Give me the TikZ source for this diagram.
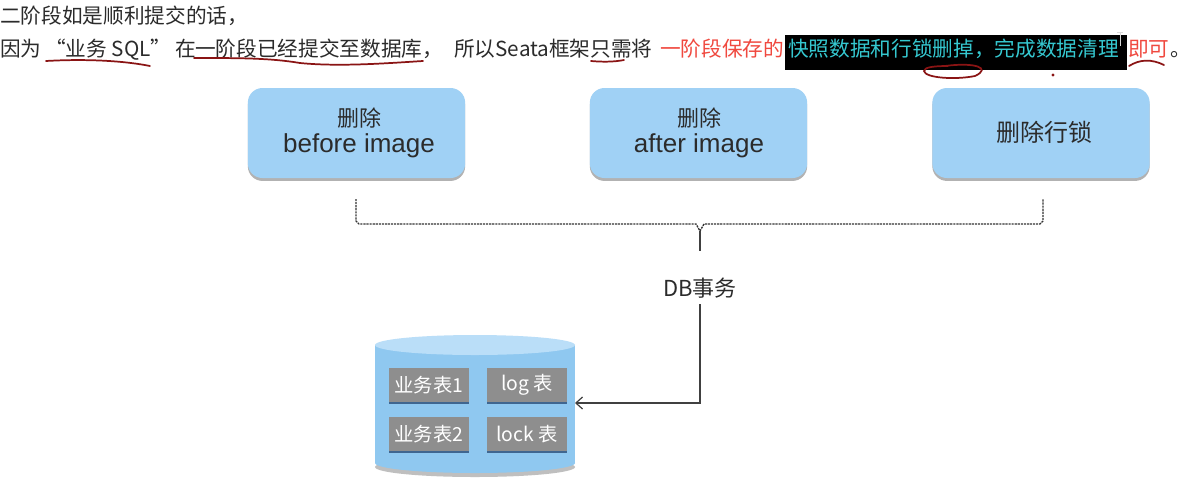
\documentclass[tikz,border=0pt]{standalone}
\usepackage{fontspec}
\newfontfamily\cjk{Noto Sans CJK SC}
\newfontfamily\arialf{Liberation Sans}
\usetikzlibrary{arrows.meta,shadows,calc}
\definecolor{txt}{HTML}{2B2B2B}
\definecolor{redtxt}{HTML}{F0493F}
\definecolor{cyantxt}{HTML}{35C8D0}
\definecolor{ink}{HTML}{8A1414}
\definecolor{boxblue}{HTML}{A0D1F5}
\definecolor{cylbody}{HTML}{8FC8F0}
\definecolor{cyltop}{HTML}{BADEF8}
\definecolor{tblgray}{HTML}{8E8E8E}
\definecolor{tblshadow}{HTML}{3F6690}
\tikzset{
  toptext/.style={font=\cjk\fontsize{15.5}{18}\selectfont, text=txt, inner sep=0pt, anchor=base west},
  stepbox/.style={rounded corners=11pt, fill=boxblue, draw=none, minimum height=67.5pt, minimum width=163pt,
     drop shadow={shadow xshift=0pt, shadow yshift=-2.2pt, opacity=0.55, fill=black!55}},
  boxcjk/.style={font=\cjk\fontsize{16.5}{18}\selectfont, text=txt},
  boxlat/.style={font=\arialf\fontsize{19.5}{21}\selectfont, text=txt},
  tbl/.style={fill=tblgray, minimum width=60pt, minimum height=25pt, inner sep=0pt, text=white,
     font=\cjk\fontsize{14.5}{16}\selectfont,
     drop shadow={shadow xshift=0pt, shadow yshift=-1.8pt, opacity=1, fill=tblshadow}},
  brace/.style={draw=black!80, line width=1pt, dash pattern=on 1.6pt off 0.7pt},
  conn/.style={draw=black!75, line width=0.9pt},
  inkmark/.style={draw=ink, line width=1.3pt, line cap=round}
}
\begin{document}
\begin{tikzpicture}[x=0.75pt,y=-0.75pt]
\useasboundingbox (0,0) rectangle (1182,480);
\fill[white] (0,0) rectangle (1182,480);

% ---- top text
\node[toptext] (l1) at (0,23) {二阶段如是顺利提交的话，};
\node[toptext] (a1) at (0,56) {因为};
\node[toptext] (a2) at (45,56) {“业务 SQL”};
\node[toptext] (a3) at (175,56) {在};
\node[toptext] (a4) at (195,56) {一阶段已经提交至数据库，};
\node[toptext] (a5) at (454,56) {所以Seata框架只需将};
\node[toptext, text=redtxt] (a6) at (660,56) {一阶段保存的};
\fill[black] (785,35) rectangle (1127,70);
\node[toptext, text=cyantxt] (a7) at (788,56) {快照数据和行锁删掉，完成数据清理};
\node[toptext, text=redtxt] (a8) at (1128,56) {即可};
\node[toptext] (a9) at (a8.base east) {。};
\draw[white!85!black, line width=0.6pt] (1120,32) -- (1120,46) (1117,32) -- (1123,32);

% ---- hand drawn marks
\draw[inkmark] (46,61) .. controls (80,59) and (120,60) .. (150,66);
\draw[inkmark] (194,58) .. controls (240,58) and (270,58) .. (300,63)
            .. controls (340,67) and (390,63) .. (423,61);
\draw[inkmark] (591,61) .. controls (602,62) and (614,62) .. (624,60);
\draw[inkmark] (945,66) .. controls (975,62) and (992,68) .. (975,76)
            .. controls (955,80) and (925,78) .. (924,71)
            .. controls (924,67) and (935,66) .. (948,66);
\fill[ink] (1053,75) circle (1.6);
\draw[inkmark] (1129,66) .. controls (1140,59) and (1152,59) .. (1164,65);

% ---- delete boxes
\node[stepbox] (b1) at (356.5,133) {};
\node[stepbox] (b2) at (698.5,133) {};
\node[stepbox] (b3) at (1041,133) {};
\node[boxcjk] (b1t) at (359,118) {删除};
\node[boxlat] (b1l) at (359,146) {before image};
\node[boxcjk] (b2t) at (699,118) {删除};
\node[boxlat] (b2l) at (699,146) {after image};
\node[boxcjk, font=\cjk\fontsize{18}{20}\selectfont] (b3t) at (1044,132) {删除行锁};

% ---- brace
\coordinate (bl) at (356,199);
\coordinate (br) at (1043,199);
\coordinate (bm) at (700,231);
\draw[brace] (bl) -- (356,221) -- (359,224) -- (696,224) -- (bm) -- (704,224)
             -- (1040,224) -- (1043,221) -- (br);
\coordinate (bt) at (700,251);
\draw[conn] (bm) -- (bt);

% ---- DB transaction
\node[font=\cjk\fontsize{16.5}{18}\selectfont, text=txt, inner sep=2pt] (db) at (700,288) {DB事务};

% ---- cylinder
\fill[black!25] (475,467) ellipse [x radius=100, y radius=10];
\fill[cylbody] (375,345) rectangle (575,463);
\fill[cylbody] (475,463) ellipse [x radius=100, y radius=10];
\fill[cyltop] (475,345) ellipse [x radius=100, y radius=10];
\coordinate (cylE) at (575,403);

\node[tbl] (t1) at (429,385) {业务表1};
\node[tbl] (t2) at (527,385) {log 表};
\node[tbl] (t3) at (429,434) {业务表2};
\node[tbl] (t4) at (527,434) {lock 表};

\draw[conn, -{Straight Barb[length=5pt,width=9pt]}] (db.south) ++(0,3) |- (cylE);
\end{tikzpicture}
\end{document}
